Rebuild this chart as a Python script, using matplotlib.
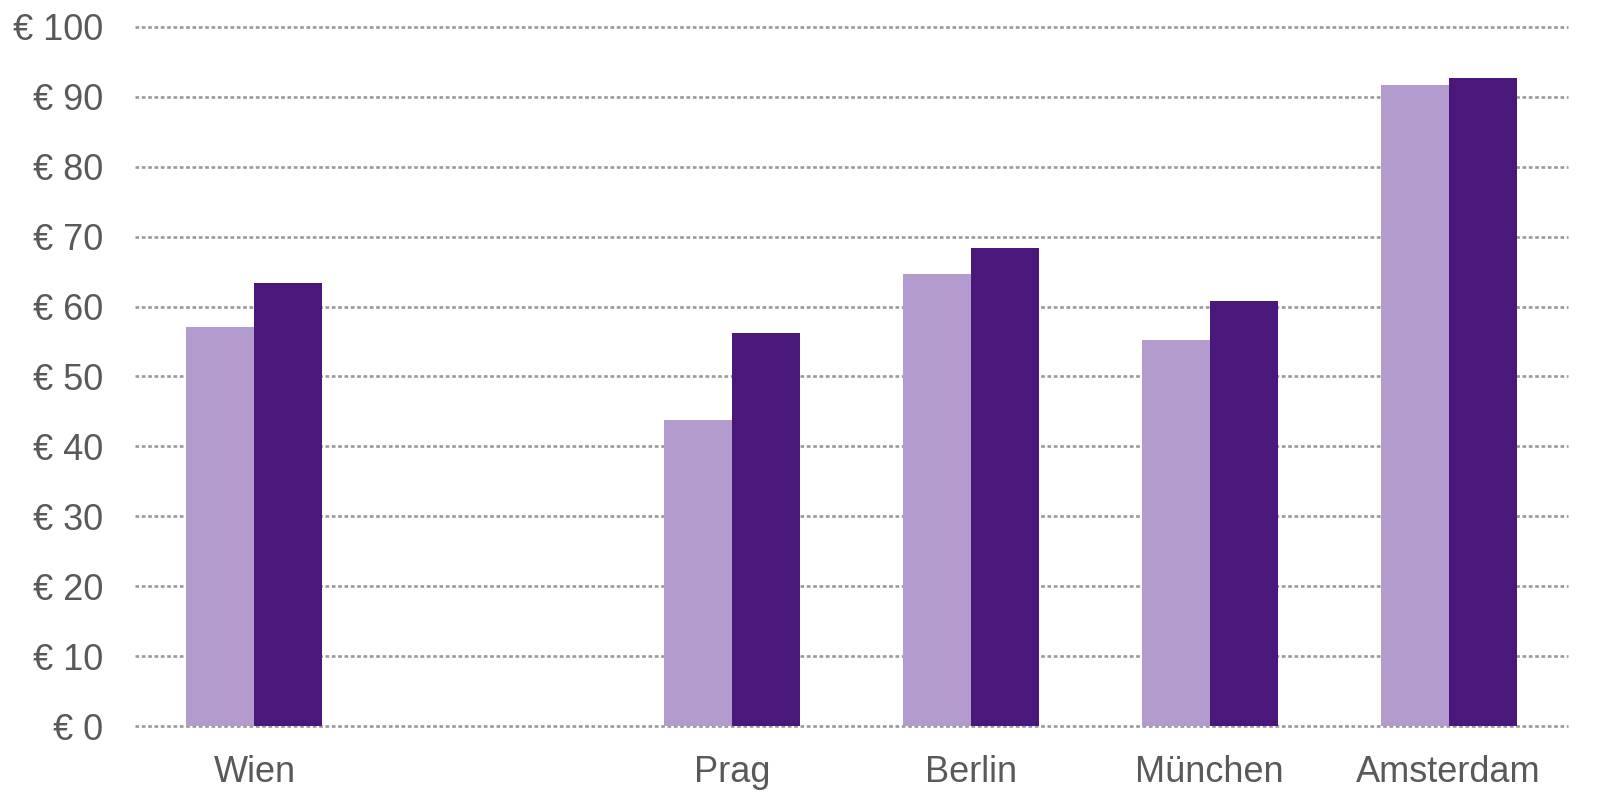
import numpy as np
import matplotlib
matplotlib.use("Agg")
import matplotlib.pyplot as plt

plt.rcParams['font.family'] = ['Liberation Sans', 'DejaVu Sans']

cities = ['Wien', '', 'Prag', 'Berlin', 'München', 'Amsterdam']
series_a = [57.1, np.nan, 43.8, 64.7, 55.2, 91.7]
series_b = [63.4, np.nan, 56.2, 68.4, 60.8, 92.7]
y_ticks = [0, 10, 20, 30, 40, 50, 60, 70, 80, 90, 100]

light = '#B39CCD'
dark = '#4A177B'
text_col = '#595959'

fig = plt.figure(figsize=(16.02, 8.05), dpi=100)
ax = fig.add_axes([135 / 1602, 79 / 805, (1568 - 135) / 1602, (726 - 27) / 805])

x = np.arange(len(cities))
w = 0.285
ax.bar(x - w / 2, series_a, width=w, color=light, zorder=3)
ax.bar(x + w / 2, series_b, width=w, color=dark, zorder=3)

ax.set_xlim(-0.5, len(cities) - 0.5)
ax.set_ylim(0, 100)
ax.set_yticks(y_ticks)
ax.set_yticklabels([f'€ {v}' for v in y_ticks])
ax.set_xticks(x)
ax.set_xticklabels(cities)
ax.tick_params(length=0, labelsize=26, colors=text_col)
ax.tick_params(axis='y', pad=23)
ax.tick_params(axis='x', pad=21)
ax.grid(axis='y', color='#999999', linestyle=(0, (1.4, 1.0)), linewidth=1.9, zorder=1, clip_on=False)
for s in ax.spines.values():
    s.set_visible(False)

fig.savefig('out.png', dpi=100)
